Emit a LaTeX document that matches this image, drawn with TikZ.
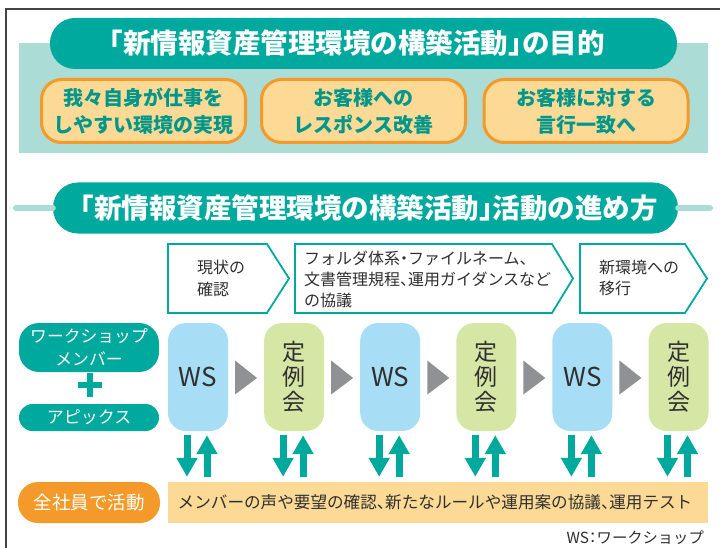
\documentclass[tikz,border=0pt]{standalone}
\usepackage{fontspec}
\setmainfont{Noto Sans CJK JP}
\usetikzlibrary{calc,arrows.meta}
\newcommand{\hw}[1]{{\addfontfeatures{RawFeature=+halt}#1}}
\definecolor{tealA}{HTML}{00A99D}
\definecolor{tealT}{HTML}{00978A}
\definecolor{ltealA}{HTML}{ABDDD6}
\definecolor{orangeA}{HTML}{F39A2B}
\definecolor{lorangeA}{HTML}{FCD995}
\definecolor{lblueA}{HTML}{A8DDF6}
\definecolor{lgreenA}{HTML}{D6E7A5}
\definecolor{grayA}{HTML}{8F9194}
\definecolor{darkA}{HTML}{2F2F2F}
\definecolor{frameA}{HTML}{444444}
\tikzset{
  titlepill/.style={fill=tealA, rounded corners=25pt, minimum height=51pt, inner sep=0pt},
  titletext/.style={text=white, font=\fontsize{27.5}{30}\selectfont\bfseries, inner sep=0pt},
  goalbox/.style={draw=orangeA, line width=3pt, fill=lorangeA, rounded corners=20pt,
     minimum width=204pt, minimum height=63pt, text=tealT, align=center, inner sep=0pt,
     font=\fontsize{20}{27}\selectfont\bfseries},
  chev/.style={draw=tealA, line width=1.8pt, fill=white, line join=miter},
  chevtext/.style={anchor=west, align=left, text=darkA, inner sep=0pt},
  tealpill/.style={fill=tealA, text=white, align=center, inner sep=0pt, minimum width=140pt},
  wsbox/.style={fill=lblueA, rounded corners=18pt, minimum width=60pt, minimum height=108pt,
     inner sep=0pt, text=darkA, font=\fontsize{26}{28}\selectfont},
  tbox/.style={fill=lgreenA, rounded corners=18pt, minimum width=60pt, minimum height=108pt,
     inner sep=0pt, text=darkA, align=center, font=\fontsize{23}{25}\selectfont},
  updown/.style={draw=tealA, line width=7pt, -{Triangle[width=20pt,length=19pt]}},
  frameline/.style={draw=frameA, line width=1.3pt}
}
\begin{document}
\begin{tikzpicture}[x=1pt,y=-1pt]
\useasboundingbox (0,0) rectangle (720,548);
\draw[frameline] (720,9) -- (6,9) -- (6,548);

% ---------- top section
\fill[ltealA] (19,43) rectangle (708,153);
\node[titlepill, minimum width=627pt] (t1) at (363.5,43.5) {};
\node[titletext] (t1text) at (357,43.5) {\hw{「}新情報資産管理環境の構築活動\hw{」}の目的};
\node[goalbox] (g1) at (143.5,111) {我々自身が仕事を\\しやすい環境の実現};
\node[goalbox] (g2) at (363.5,111) {お客様への\\レスポンス改善};
\node[goalbox] (g3) at (586,111) {お客様に対する\\言行一致へ};

% ---------- middle title
\node[titlepill, minimum width=625pt] (t2) at (365.5,208) {};
\coordinate (lL) at (16,208);
\coordinate (lR) at (710,208);
\draw[ltealA, line width=6pt, line cap=round] (lL) -- (t2.west);
\draw[ltealA, line width=6pt, line cap=round] (t2.east) -- (lR);
\node[titletext] (t2text) at (369,208) {\hw{「}新情報資産管理環境の構築活動\hw{」}活動の進め方};

% ---------- chevrons
\draw[chev] (168,244) -- (267,244) -- (289,278.5) -- (267,313) -- (168,313) -- cycle;
\draw[chev] (295,244) -- (552,244) -- (573,278.5) -- (552,313) -- (295,313) -- cycle;
\draw[chev] (580,244) -- (685,244) -- (707,278.5) -- (685,313) -- (580,313) -- cycle;
\node[chevtext, font=\fontsize{16}{22}\selectfont] (c1) at (197,278.5) {現状の\\確認};
\node[chevtext, font=\fontsize{16}{21}\selectfont] (c2) at (304,279) {フォルダ体系\hw{・}ファイルネーム\hw{、}\\文書管理規程\hw{、}運用ガイダンスなど\\の協議};
\node[chevtext, font=\fontsize{16}{20.5}\selectfont] (c3) at (599,278) {新環境への\\移行};

% ---------- left labels
\node[tealpill, minimum height=49pt, rounded corners=20pt, font=\fontsize{16.8}{23}\selectfont] (wm) at (89,347.5) {ワークショップ\\メンバー};
\node[tealpill, minimum height=27pt, rounded corners=13.5pt, font=\fontsize{17}{20}\selectfont] (ap) at (89,417.5) {アピックス};
\coordinate (pc) at (90,385);
\draw[tealA, line width=6pt] ($(pc)+(-12,0)$) -- ($(pc)+(12,0)$);
\draw[tealA, line width=6pt] ($(pc)+(0,-12)$) -- ($(pc)+(0,12)$);

% ---------- process boxes
\node[wsbox] (b0) at (198,377) {WS};
\node[tbox]  (b1) at (294.1,377) {定\\例\\会};
\node[wsbox] (b2) at (390.2,377) {WS};
\node[tbox]  (b3) at (486.3,377) {定\\例\\会};
\node[wsbox] (b4) at (582.4,377) {WS};
\node[tbox]  (b5) at (678.5,377) {定\\例\\会};

\foreach \a/\b in {b0/b1,b1/b2,b2/b3,b3/b4,b4/b5}{
  \coordinate (m) at ($(\a.east)!0.5!(\b.west)$);
  \fill[grayA] ($(m)+(-11,-16.5)$) -- ($(m)+(11,1)$) -- ($(m)+(-11,17.5)$) -- cycle;
}

% ---------- bottom
\node[fill=orangeA, text=white, minimum width=142pt, minimum height=41pt, rounded corners=20pt,
      inner sep=0pt, font=\fontsize{18.5}{22}\selectfont] (all) at (89,502.5) {全社員で活動};
\node[fill=lorangeA, minimum width=540pt, minimum height=41pt, inner sep=0pt, text=darkA] (bar) at (438,502.5) {};
\node[inner sep=0pt, text=darkA, font=\fontsize{16.6}{20}\selectfont] (bartext) at (435,502.5) {メンバーの声や要望の確認\hw{、}新たなルールや運用案の協議\hw{、}運用テスト};

\foreach \b in {b0,b1,b2,b3,b4,b5}{
  \coordinate (d1) at ($(\b.south)+(-11,4)$);
  \coordinate (d2) at ($(d1 |- bar.north)+(0,-5)$);
  \coordinate (u1) at ($(\b.south)+(9,4)$);
  \coordinate (u2) at ($(u1 |- bar.north)+(0,-5)$);
  \draw[updown] (d1) -- (d2);
  \draw[updown] (u2) -- (u1);
}
\node[anchor=east, inner sep=0pt, text=darkA, font=\fontsize{15.3}{20}\selectfont] (note) at (704,538) {WS\hw{：}ワークショップ};
\end{tikzpicture}
\end{document}
